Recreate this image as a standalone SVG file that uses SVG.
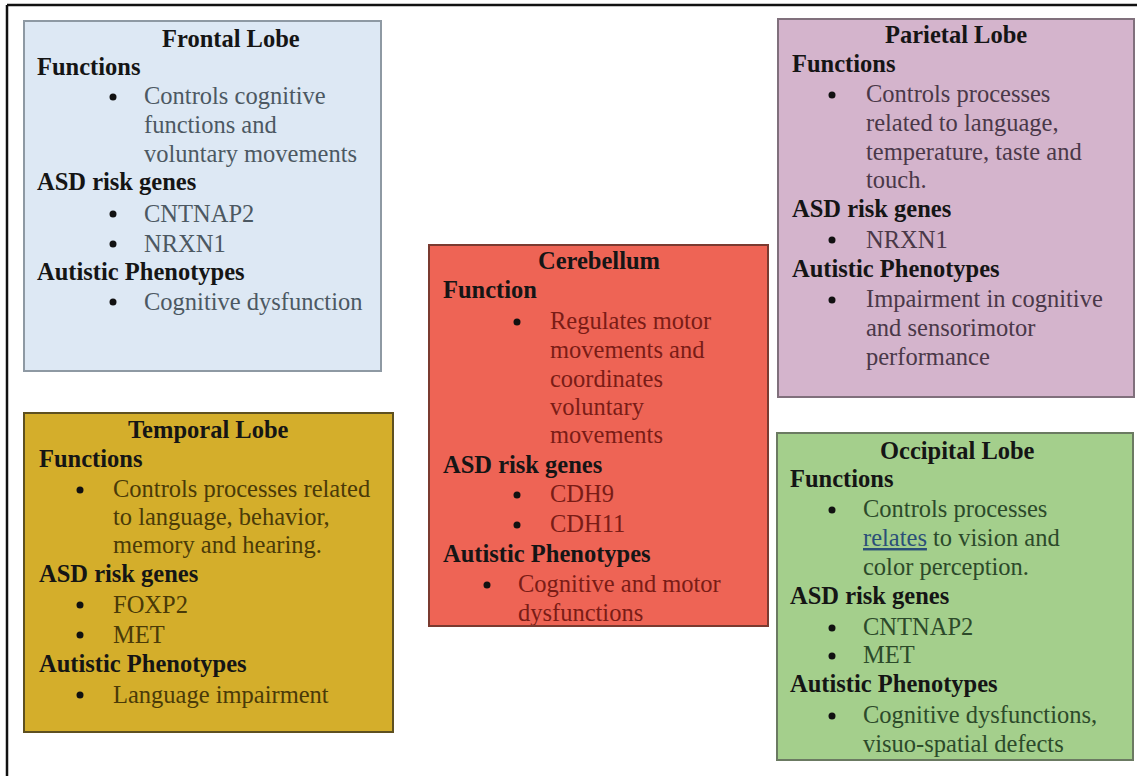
<svg xmlns="http://www.w3.org/2000/svg" width="1137" height="776" viewBox="0 0 1137 776">
<style>
text{font-family:"Liberation Serif","Times New Roman",serif;font-size:24.5px}
.t{font-weight:bold;fill:#151515}
.h{font-weight:bold;fill:#151515}
.box{stroke-width:2}
.fr text.b{fill:#4c5862}
.te text.b{fill:#4a3a08}
.ce text.b{fill:#7a1c16}
.pa text.b{fill:#4a3848}
.oc text.b{fill:#2c4a2a}
circle{fill:#111}
</style>
<rect width="1137" height="776" fill="#ffffff"/>
<g id="frame" stroke="#111" stroke-width="2.5" fill="none">
<line x1="7" y1="5" x2="1137" y2="5"/>
<line x1="7" y1="5" x2="7" y2="776"/>
</g>
<g id="connectors"></g>

<g id="frontal" class="fr">
<rect class="box" x="24" y="21" width="357" height="350" fill="#dde8f4" stroke="#8e99a3"/>
<text class="t" x="162" y="47">Frontal Lobe</text>
<text class="h" x="37" y="75">Functions</text>
<circle cx="113" cy="97" r="3.5"/>
<text class="b" x="144" y="104">Controls cognitive</text>
<text class="b" x="144" y="133">functions and</text>
<text class="b" x="144" y="162">voluntary movements</text>
<text class="h" x="37" y="190">ASD risk genes</text>
<circle cx="113" cy="214" r="3.5"/>
<text class="b" x="144" y="222">CNTNAP2</text>
<circle cx="113" cy="244" r="3.5"/>
<text class="b" x="144" y="252">NRXN1</text>
<text class="h" x="37" y="280">Autistic Phenotypes</text>
<circle cx="113" cy="302" r="3.5"/>
<text class="b" x="144" y="310">Cognitive dysfunction</text>
</g>

<g id="temporal" class="te">
<rect class="box" x="24" y="413" width="369" height="319" fill="#d4ae2b" stroke="#5e5020"/>
<text class="t" x="128" y="438">Temporal Lobe</text>
<text class="h" x="39" y="467">Functions</text>
<circle cx="80" cy="490" r="3.5"/>
<text class="b" x="113" y="497">Controls processes related</text>
<text class="b" x="113" y="525">to language, behavior,</text>
<text class="b" x="113" y="553">memory and hearing.</text>
<text class="h" x="39" y="582">ASD risk genes</text>
<circle cx="80" cy="605" r="3.5"/>
<text class="b" x="113" y="613">FOXP2</text>
<circle cx="80" cy="635" r="3.5"/>
<text class="b" x="113" y="643">MET</text>
<text class="h" x="39" y="672">Autistic Phenotypes</text>
<circle cx="80" cy="695" r="3.5"/>
<text class="b" x="113" y="703">Language impairment</text>
</g>

<g id="cerebellum" class="ce">
<svg x="429" y="245" width="339" height="381" overflow="hidden">
<rect x="0" y="0" width="339" height="381" fill="#ee6455"/>
</svg>
<text class="t" x="538" y="269">Cerebellum</text>
<text class="h" x="443" y="298">Function</text>
<circle cx="517" cy="322" r="3.5"/>
<text class="b" x="550" y="329">Regulates motor</text>
<text class="b" x="550" y="358">movements and</text>
<text class="b" x="550" y="387">coordinates</text>
<text class="b" x="550" y="415">voluntary</text>
<text class="b" x="550" y="443">movements</text>
<text class="h" x="443" y="473">ASD risk genes</text>
<circle cx="517" cy="495" r="3.5"/>
<text class="b" x="550" y="502">CDH9</text>
<circle cx="517" cy="525" r="3.5"/>
<text class="b" x="550" y="532">CDH11</text>
<text class="h" x="443" y="562">Autistic Phenotypes</text>
<circle cx="487" cy="585" r="3.5"/>
<text class="b" x="518" y="592">Cognitive and motor</text>
<text class="b" x="518" y="621">dysfunctions</text>
<rect x="429" y="626" width="341" height="10" fill="#ffffff"/>
<rect class="box" x="429" y="245" width="339" height="381" fill="none" stroke="#7a3a30"/>
</g>

<g id="parietal" class="pa">
<rect class="box" x="778" y="19" width="356" height="378" fill="#d4b4cc" stroke="#80707c"/>
<text class="t" x="885" y="43">Parietal Lobe</text>
<text class="h" x="792" y="72">Functions</text>
<circle cx="832" cy="95" r="3.5"/>
<text class="b" x="866" y="102">Controls processes</text>
<text class="b" x="866" y="131">related to language,</text>
<text class="b" x="866" y="160">temperature, taste and</text>
<text class="b" x="866" y="188">touch.</text>
<text class="h" x="792" y="217">ASD risk genes</text>
<circle cx="832" cy="240" r="3.5"/>
<text class="b" x="866" y="248">NRXN1</text>
<text class="h" x="792" y="277">Autistic Phenotypes</text>
<circle cx="832" cy="300" r="3.5"/>
<text class="b" x="866" y="307">Impairment in cognitive</text>
<text class="b" x="866" y="336">and sensorimotor</text>
<text class="b" x="866" y="365">performance</text>
</g>

<g id="occipital" class="oc">
<rect class="box" x="777" y="433" width="356" height="327" fill="#a4cf8c" stroke="#6b7a62"/>
<text class="t" x="880" y="459">Occipital Lobe</text>
<text class="h" x="790" y="487">Functions</text>
<circle cx="832" cy="510" r="3.5"/>
<text class="b" x="863" y="517">Controls processes</text>
<text class="b" x="863" y="546"><tspan fill="#2b4f78" text-decoration="underline">relates</tspan> to vision and</text>
<text class="b" x="863" y="575">color perception.</text>
<text class="h" x="790" y="604">ASD risk genes</text>
<circle cx="832" cy="628" r="3.5"/>
<text class="b" x="863" y="635">CNTNAP2</text>
<circle cx="832" cy="656" r="3.5"/>
<text class="b" x="863" y="663">MET</text>
<text class="h" x="790" y="692">Autistic Phenotypes</text>
<circle cx="832" cy="716" r="3.5"/>
<text class="b" x="863" y="723">Cognitive dysfunctions,</text>
<text class="b" x="863" y="752">visuo-spatial defects</text>
</g>
</svg>
